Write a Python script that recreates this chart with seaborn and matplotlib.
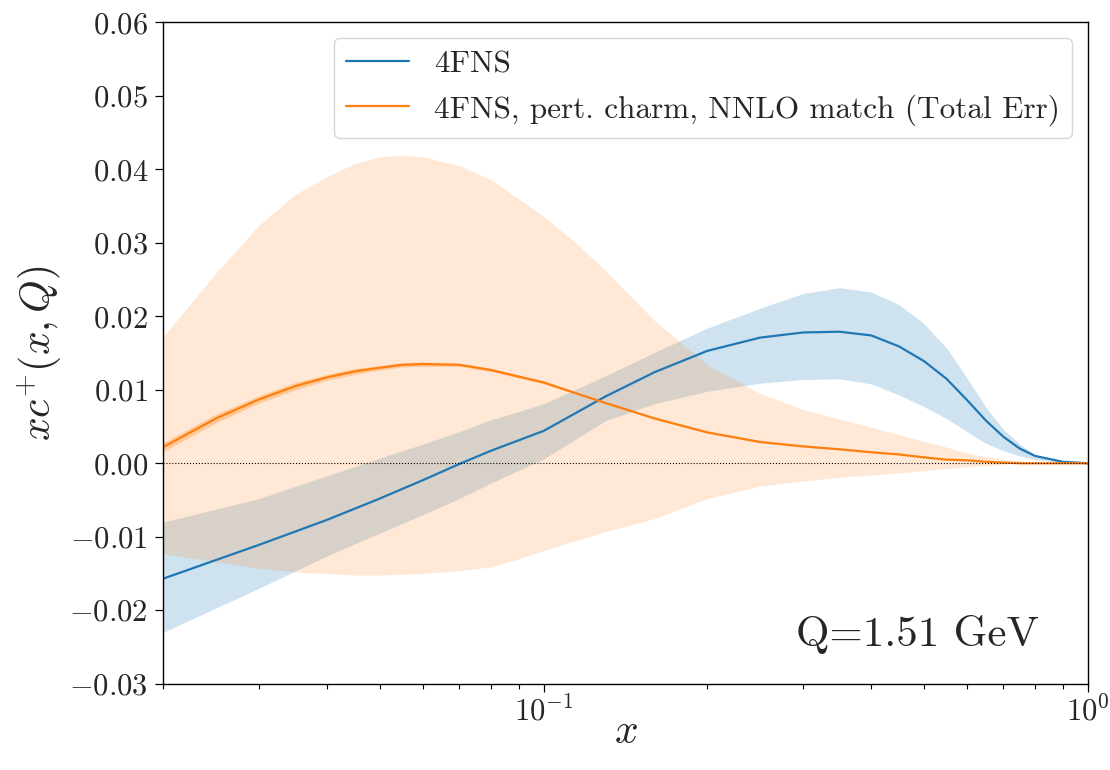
import numpy as np
import pandas as pd
import matplotlib
matplotlib.use('Agg')
import matplotlib.pyplot as plt
import seaborn as sns

# 4FNS: x grid, central value and band
x_fns4 = [0.02, 0.03, 0.04, 0.05, 0.06, 0.07, 0.08, 0.1, 0.13, 0.16, 0.2, 0.25,
          0.3, 0.35, 0.4, 0.45, 0.5, 0.55, 0.6, 0.65, 0.7, 0.75, 0.8, 0.9, 1.0]
fns4_cv = [-0.0157, -0.0111, -0.0077, -0.0048, -0.0023, -0.0001, 0.0017, 0.0044,
           0.0091, 0.0124, 0.0153, 0.0171, 0.0178, 0.0179, 0.0174, 0.0159,
           0.0139, 0.0115, 0.0086, 0.0058, 0.0036, 0.0020, 0.0010, 0.0002, 0.0]
fns4_up = [-0.0080, -0.0048, -0.0017, 0.0007, 0.0026, 0.0043, 0.0059, 0.0081,
           0.0119, 0.0151, 0.0184, 0.0211, 0.0231, 0.0239, 0.0233, 0.0216,
           0.0190, 0.0157, 0.0116, 0.0076, 0.0046, 0.0026, 0.0012, 0.0002, 0.0]
fns4_lo = [-0.0230, -0.0170, -0.0126, -0.0095, -0.0070, -0.0048, -0.0027, 0.0006,
           0.0058, 0.0081, 0.0098, 0.0109, 0.0114, 0.0115, 0.0108, 0.0093,
           0.0077, 0.0061, 0.0043, 0.0027, 0.0017, 0.0010, 0.0005, 0.0001, 0.0]

# 4FNS pert. charm NNLO match: x grid, central value, total error band, narrow band
x_pc = [0.02, 0.025, 0.03, 0.035, 0.04, 0.045, 0.05, 0.055, 0.06, 0.07, 0.08,
        0.09, 0.1, 0.115, 0.13, 0.145, 0.16, 0.2, 0.25, 0.3, 0.35, 0.4, 0.45,
        0.5, 0.55, 0.6, 0.65, 0.7, 0.75, 0.8, 0.9, 1.0]
pc_cv = [0.0022, 0.0061, 0.0087, 0.0105, 0.0117, 0.0125, 0.0130, 0.0134, 0.0135,
         0.0134, 0.0127, 0.0118, 0.0110, 0.0095, 0.0082, 0.0071, 0.0061, 0.0042,
         0.0029, 0.0023, 0.0019, 0.0015, 0.0012, 0.0008, 0.0005, 0.0004, 0.0002,
         0.0001, 0.0, 0.0, 0.0, 0.0]
pc_up = [0.0172, 0.0259, 0.0324, 0.0366, 0.0390, 0.0408, 0.0417, 0.0419, 0.0417,
         0.0405, 0.0386, 0.0360, 0.0336, 0.0299, 0.0262, 0.0226, 0.0194, 0.0134,
         0.0095, 0.0073, 0.0060, 0.0049, 0.0039, 0.0030, 0.0022, 0.0014, 0.0009,
         0.0005, 0.0003, 0.0001, 0.0, 0.0]
pc_lo = [-0.0123, -0.0134, -0.0143, -0.0148, -0.0150, -0.0152, -0.0152, -0.0151,
         -0.0150, -0.0146, -0.0141, -0.0130, -0.0119, -0.0105, -0.0093, -0.0084,
         -0.0075, -0.0048, -0.0031, -0.0024, -0.0019, -0.0016, -0.0013, -0.0010,
         -0.0007, -0.0005, -0.0003, -0.0001, 0.0, 0.0, 0.0, 0.0]
pc_err = [0.0006, 0.0006, 0.0005, 0.0005, 0.0004, 0.0004, 0.0003, 0.0003, 0.0003,
          0.0002, 0.0002, 0.0002, 0.0002, 0.0001, 0.0001, 0.0001, 0.0001, 0.0001,
          0.0001, 0.0001, 0.0, 0.0, 0.0, 0.0, 0.0, 0.0, 0.0, 0.0, 0.0, 0.0, 0.0, 0.0]

labels = ['4FNS', '4FNS, pert. charm, NNLO match (Total Err)']

sns.set_style('ticks')
plt.rcParams['font.family'] = 'serif'
plt.rcParams['font.serif'] = ['cmr10', 'DejaVu Serif']
plt.rcParams['mathtext.fontset'] = 'cm'
plt.rcParams['axes.formatter.use_mathtext'] = True
plt.rcParams['axes.unicode_minus'] = True
plt.rcParams['xtick.major.size'] = 6
plt.rcParams['ytick.major.size'] = 6
plt.rcParams['xtick.minor.size'] = 3.5
plt.rcParams['xtick.major.width'] = 0.9
plt.rcParams['ytick.major.width'] = 0.9
plt.rcParams['xtick.minor.width'] = 0.8

df = pd.DataFrame({
    'x': x_fns4 + x_pc,
    'y': fns4_cv + pc_cv,
    'fit': [labels[0]] * len(x_fns4) + [labels[1]] * len(x_pc),
})

fig = plt.figure(figsize=(11.1, 7.7), dpi=100)
ax = fig.add_axes([0.147, 0.112, 0.833, 0.859])

c0, c1 = sns.color_palette('tab10')[0], sns.color_palette('tab10')[1]

ax.fill_between(x_fns4, fns4_lo, fns4_up, color=c0, alpha=0.21, lw=0)
ax.fill_between(x_pc, pc_lo, pc_up, color=c1, alpha=0.17, lw=0)
ax.fill_between(x_pc, np.array(pc_cv) - np.array(pc_err),
                np.array(pc_cv) + np.array(pc_err), color=c1, alpha=0.3, lw=0)

sns.lineplot(data=df, x='x', y='y', hue='fit', palette=[c0, c1], ax=ax, lw=1.6)
ax.axhline(0, color='black', ls=':', lw=0.8)

ax.set_xscale('log')
ax.set_xlim(0.02, 1.0)
ax.set_ylim(-0.03, 0.06)
ax.set_yticks(np.arange(-0.03, 0.061, 0.01))

for sp in ax.spines.values():
    sp.set_color('black')
    sp.set_linewidth(1.0)
ax.tick_params(which='both', direction='out', color='black', bottom=True, left=True)
ax.tick_params(axis='y', labelsize=22, pad=5)
ax.tick_params(axis='x', labelsize=22, pad=3)

ax.set_xlabel('$x$', fontsize=30, labelpad=-10)
ax.set_ylabel('$xc^{+}(x,Q)$', fontsize=30)

ax.text(0.947, 0.045, 'Q=1.51 GeV', transform=ax.transAxes, fontsize=31,
        ha='right', va='bottom')

leg = ax.legend(loc='upper right', fontsize=22.5, frameon=True)
leg.set_title(None)

plt.savefig('out.png', dpi=100)
